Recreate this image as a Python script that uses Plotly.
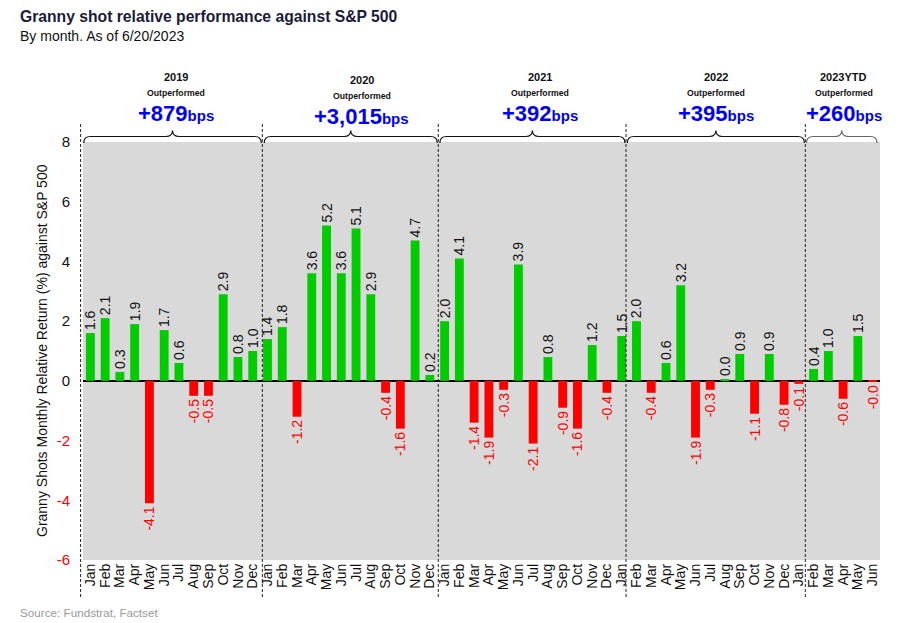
import plotly.graph_objects as go

# ---------------- data ----------------
month_names = ["Jan", "Feb", "Mar", "Apr", "May", "Jun",
               "Jul", "Aug", "Sep", "Oct", "Nov", "Dec"]
years = ["2019", "2020", "2021", "2022", "2023YTD"]
months_per_year = [12, 12, 12, 12, 6]

vals_2019 = [1.6, 2.1, 0.3, 1.9, -4.1, 1.7, 0.6, -0.5, -0.5, 2.9, 0.8, 1.0]
vals_2020 = [1.4, 1.8, -1.2, 3.6, 5.2, 3.6, 5.1, 2.9, -0.4, -1.6, 4.7, 0.2]
vals_2021 = [2.0, 4.1, -1.4, -1.9, -0.3, 3.9, -2.1, 0.8, -0.9, -1.6, 1.2, -0.4]
vals_2022 = [1.5, 2.0, -0.4, 0.6, 3.2, -1.9, -0.3, 0.04, 0.9, -1.1, 0.9, -0.8]
vals_2023 = [-0.1, 0.4, 1.0, -0.6, 1.5, -0.02]

outperf_bps = ["+879", "+3,015", "+392", "+395", "+260"]

y_ticks = [-6, -4, -2, 0, 2, 4, 6, 8]

# ---------------- build ----------------
values = vals_2019 + vals_2020 + vals_2021 + vals_2022 + vals_2023
labels = []
for n in months_per_year:
    labels += month_names[:n]
xs = list(range(len(values)))

GREEN = "#00cc00"
RED = "#ff0000"
bar_colors = [GREEN if v >= 0 else RED for v in values]
text_colors = ["#111111" if v >= 0 else RED for v in values]
texts = [f"{v:.1f}" for v in values]

FONT = "Liberation Sans, Arial, sans-serif"

fig = go.Figure()
fig.add_trace(go.Bar(
    x=xs, y=values, width=0.6,
    marker=dict(color=bar_colors, line=dict(width=0)),
    text=texts, textposition="outside", textangle=-90,
    textfont=dict(family=FONT, size=14, color=text_colors),
    constraintext="none", cliponaxis=False,
    hoverinfo="skip",
))

# plot-area geometry (pixels)
L, R, T, B = 83, 35, 142, 63
W, H = 915, 623
PW, PH = W - L - R, H - T - B


def xp(px):
    return (px - L) / PW


def yp(py):
    return (T + PH - py) / PH


shapes = []
# separators (year boundaries, as drawn in the original)
sep_x = [11.65, 23.57, 36.29, 48.44]
shapes.append(dict(type="line", xref="paper", yref="paper",
                   x0=-0.003, x1=-0.003, y0=yp(597), y1=yp(122),
                   line=dict(color="#222", width=1, dash="3px,2px"), layer="above"))
for s in sep_x:
    shapes.append(dict(type="line", xref="x", yref="paper",
                       x0=s, x1=s, y0=yp(597), y1=yp(122),
                       line=dict(color="#222", width=1, dash="3px,2px"), layer="above"))

# braces
brace_ranges = [(-0.45, 11.58), (11.78, 23.5), (23.68, 36.22), (36.38, 48.38), (48.52, 53.3)]
brace_colors = ["#111", "#111", "#111", "#111", "#666"]
yl, yt, ye = yp(136.5), yp(130.5), yp(143)
d = 0.45
for (a, b), c in zip(brace_ranges, brace_colors):
    m = (a + b) / 2
    path = (f"M {a},{ye} Q {a},{yl} {a + d},{yl} L {m - d},{yl} "
            f"Q {m},{yl} {m},{yt} Q {m},{yl} {m + d},{yl} "
            f"L {b - d},{yl} Q {b},{yl} {b},{ye}")
    shapes.append(dict(type="path", xref="x", yref="paper", path=path,
                       line=dict(color=c, width=1.2), layer="above"))

annotations = []
year_x = [5.8, 18.4, 30.46, 42.39, 51.06]
year_y = [77, 80, 77, 77, 77]
for yr, x, yy, bps in zip(years, year_x, year_y, outperf_bps):
    annotations.append(dict(x=x, y=yp(yy), xref="x", yref="paper", text=f"<b>{yr}</b>",
                            showarrow=False, xanchor="center", yanchor="middle",
                            font=dict(family=FONT, size=11, color="#111")))
    annotations.append(dict(x=x, y=yp(yy + 16), xref="x", yref="paper", text="<b>Outperformed</b>",
                            showarrow=False, xanchor="center", yanchor="middle",
                            font=dict(family=FONT, size=8.7, color="#111")))
    annotations.append(dict(x=x, y=yp(yy + 36), xref="x", yref="paper",
                            text=f"<b>{bps}<span style='font-size:15px'>bps</span></b>",
                            showarrow=False, xanchor="center", yanchor="middle",
                            font=dict(family=FONT, size=22, color="#0000ff")))

annotations += [
    dict(x=xp(18), y=yp(17), xref="paper", yref="paper", xanchor="left", yanchor="middle",
         text="<b>Granny shot relative performance against S&P 500</b>", showarrow=False,
         font=dict(family=FONT, size=15.7, color="#1b1b3a")),
    dict(x=xp(18), y=yp(36), xref="paper", yref="paper", xanchor="left", yanchor="middle",
         text="By month. As of 6/20/2023", showarrow=False,
         font=dict(family=FONT, size=14, color="#111")),
    dict(x=xp(18), y=yp(612), xref="paper", yref="paper", xanchor="left", yanchor="middle",
         text="Source: Fundstrat, Factset", showarrow=False,
         font=dict(family=FONT, size=11.7, color="#9a9a9a")),
    dict(x=xp(42), y=0.5, xref="paper", yref="paper", xanchor="center", yanchor="middle",
         text="Granny Shots Monthly Relative Return (%) against S&P 500", textangle=-90,
         showarrow=False, font=dict(family=FONT, size=14, color="#111")),
]

y_ticktext = [f"<span style='color:{RED}'>{t}</span>" if t < 0 else str(t) for t in y_ticks]

fig.update_layout(
    width=W, height=H,
    margin=dict(l=L, r=R, t=T, b=B, autoexpand=False),
    paper_bgcolor="white", plot_bgcolor="#d9d9d9",
    showlegend=False,
    bargap=0.4,
    shapes=shapes, annotations=annotations,
    xaxis=dict(range=[-0.5, len(values) - 0.5], tickmode="array", tickvals=xs, ticktext=labels,
               tickangle=-90, showgrid=False, zeroline=False, showline=False, ticks="",
               tickfont=dict(family=FONT, size=14, color="#111"), fixedrange=True),
    yaxis=dict(range=[-6, 8], tickmode="array", tickvals=y_ticks, ticktext=y_ticktext,
               showgrid=False, zeroline=True, zerolinecolor="#000", zerolinewidth=1.5,
               showline=False, ticks="", ticklabelstandoff=12,
               tickfont=dict(family=FONT, size=15, color="#111"), fixedrange=True),
)

fig.write_html("out.html")
